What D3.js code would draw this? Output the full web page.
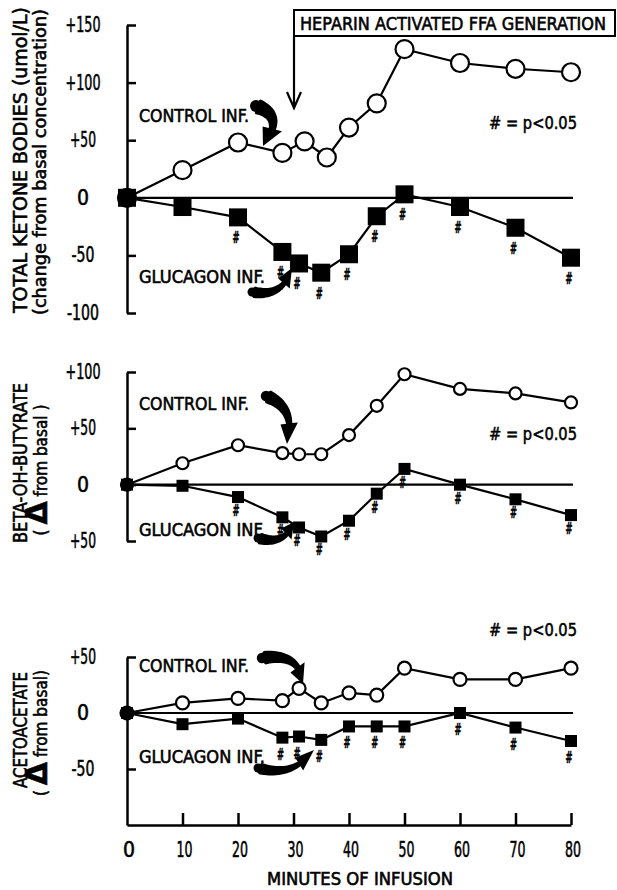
<!DOCTYPE html>
<html>
<head>
<meta charset="utf-8">
<script src="https://cdn.jsdelivr.net/npm/d3@7"></script>
<style>
  body { margin: 0; background: #fff; }
  svg { display: block; }
  text { stroke: #000; stroke-width: 0.55px; }
</style>
</head>
<body>
<div id="chart"></div>
<script>
// Data
var minutes = [0, 10, 20, 28, 31, 35, 40, 45, 50, 60, 70, 80];
var ketoneControlMinutes = [0, 10, 20, 28, 32, 36, 40, 45, 50, 60, 70, 80];
var ketoneControl = [0, 24, 48, 39, 49, 35, 61, 82, 129, 117, 112, 109];
var ketoneGlucagon = [0, -8, -17, -47, -57, -65, -49, -16, 3, -8, -26, -52];
var ketoneSig = [20, 28, 31, 35, 40, 45, 50, 60, 70, 80];
var bohbControl = [0, 19, 35, 28, 27, 27, 44, 70, 98, 85, 81, 73];
var bohbGlucagon = [0, -1, -11, -29, -38, -46, -32, -8, 14, 0, -13, -27];
var bohbSig = [20, 28, 31, 35, 40, 45, 50, 60, 70, 80];
var acacControl = [0, 9, 13, 11, 22, 9, 18, 16, 40, 30, 30, 40];
var acacGlucagon = [0, -10, -5, -22, -21, -24, -12, -12, -12, 0, -13, -25];
var acacSig = [28, 31, 35, 40, 45, 50, 60, 70, 80];

var xTicks = [0, 10, 20, 30, 40, 50, 60, 70, 80];
var ketoneTicks = [150, 100, 50, 0, -50, -100];
var ketoneTickLabels = ["+150", "+100", "+50", "0", "-50", "-100"];
var bohbTicks = [100, 50, 0, -50];
var bohbTickLabels = ["+100", "+50", "0", "+50"];
var acacTicks = [50, 0, -50];
var acacTickLabels = ["+50", "0", "-50"];

var FONT = "'Liberation Sans Narrow','DejaVu Sans Condensed','Arial Narrow',sans-serif";

var width = 617, height = 890;

var svg = d3.select("#chart")
    .append("svg")
    .attr("width", width)
    .attr("height", height)
    .style("font-family", FONT);

var x = d3.scaleLinear().domain([0, 80]).range([127, 571]);

// rough printed width of a numeric label
function labelWidth(s) {
    var w = 0;
    for (var i = 0; i < s.length; i++) w += s[i] === "+" ? 8 : (s[i] === "-" ? 5 : 9);
    return w;
}

var panels = [
    { y: d3.scaleLinear().domain([-100, 150]).range([313, 25]),
      ctrlX: ketoneControlMinutes, ctrl: ketoneControl, gluc: ketoneGlucagon, sig: ketoneSig,
      ticks: ketoneTicks, labels: ketoneTickLabels, r: 9, sq: 18, sigDy: 26,
      ctrlLabelY: 122, glucLabelY: 283, pLabelY: 129 },
    { y: d3.scaleLinear().domain([-50, 100]).range([541, 372]),
      ctrlX: minutes, ctrl: bohbControl, gluc: bohbGlucagon, sig: bohbSig,
      ticks: bohbTicks, labels: bohbTickLabels, r: 6, sq: 12, sigDy: 19,
      ctrlLabelY: 410, glucLabelY: 536, pLabelY: 440 },
    { y: d3.scaleLinear().domain([-100, 50]).range([825, 657]),
      ctrlX: minutes, ctrl: acacControl, gluc: acacGlucagon, sig: acacSig,
      ticks: acacTicks, labels: acacTickLabels, r: 6.5, sq: 12, sigDy: 22,
      ctrlLabelY: 672, glucLabelY: 763, pLabelY: 636 }
];

// curved, fat annotation arrow (hand drawn look)
function fatArrow(p0, c, p1, w) {
    function q(t) {
        return [(1 - t) * (1 - t) * p0[0] + 2 * (1 - t) * t * c[0] + t * t * p1[0],
                (1 - t) * (1 - t) * p0[1] + 2 * (1 - t) * t * c[1] + t * t * p1[1]];
    }
    function dq(t) {
        var dx = 2 * (1 - t) * (c[0] - p0[0]) + 2 * t * (p1[0] - c[0]);
        var dy = 2 * (1 - t) * (c[1] - p0[1]) + 2 * t * (p1[1] - c[1]);
        var l = Math.sqrt(dx * dx + dy * dy);
        return [dx / l, dy / l];
    }
    var tb = 0.68, n = 20, left = [], right = [];
    for (var i = 0; i <= n; i++) {
        var t = tb * i / n, P = q(t), D = dq(t);
        var h = w * (1 - 0.55 * t / tb) * (i === 0 ? 0.6 : 1);
        left.push([P[0] - D[1] * h, P[1] + D[0] * h]);
        right.push([P[0] + D[1] * h, P[1] - D[0] * h]);
    }
    var B = q(tb), D = dq(tb), hw = w * 1.25;
    var pts = left.concat([[B[0] - D[1] * hw, B[1] + D[0] * hw], p1, [B[0] + D[1] * hw, B[1] - D[0] * hw]])
        .concat(right.reverse());
    svg.append("path")
        .attr("d", "M" + pts.map(function (p) { return p[0].toFixed(1) + "," + p[1].toFixed(1); }).join("L") + "Z")
        .attr("fill", "#000");
    svg.append("circle").attr("cx", p0[0]).attr("cy", p0[1]).attr("r", w * 0.75).attr("fill", "#000");
}

var line = d3.line();

panels.forEach(function (p) {
    var g = svg.append("g");

    // vertical axis with right-pointing ticks
    var yAxis = d3.axisRight(p.y).tickValues(p.ticks).tickSize(9).tickSizeOuter(0).tickFormat("");
    var ay = g.append("g").attr("transform", "translate(" + x(0) + ",0)").call(yAxis);
    ay.selectAll("path, line").attr("stroke", "#000").attr("stroke-width", 2.5);

    // tick labels on the left
    g.selectAll(".ylab")
        .data(p.ticks)
        .enter().append("text")
        .attr("x", 83)
        .attr("y", function (d) { return p.y(d) + 7; })
        .attr("text-anchor", "middle")
        .attr("font-size", 21)
        .each(function (d, i) {
            var s = p.labels[i];
            d3.select(this).text(s);
            if (s.length > 1) d3.select(this).attr("textLength", labelWidth(s)).attr("lengthAdjust", "spacingAndGlyphs");
        });

    // zero line
    g.append("line")
        .attr("x1", x(0)).attr("x2", x(80) + 2)
        .attr("y1", p.y(0)).attr("y2", p.y(0))
        .attr("stroke", "#000").attr("stroke-width", 2.2);

    var ctrlPts = p.ctrl.map(function (v, i) { return [x(p.ctrlX[i]), p.y(v)]; });
    var glucPts = p.gluc.map(function (v, i) { return [x(minutes[i]), p.y(v)]; });

    g.append("path").attr("d", line(glucPts)).attr("fill", "none")
        .attr("stroke", "#000").attr("stroke-width", 2.2);
    g.append("path").attr("d", line(ctrlPts)).attr("fill", "none")
        .attr("stroke", "#000").attr("stroke-width", 2.2);

    // glucagon squares
    g.selectAll(".sq")
        .data(glucPts)
        .enter().append("rect")
        .attr("x", function (d) { return d[0] - p.sq / 2; })
        .attr("y", function (d) { return d[1] - p.sq / 2; })
        .attr("width", p.sq).attr("height", p.sq)
        .attr("fill", "#000");

    // control circles
    g.selectAll(".dot")
        .data(ctrlPts)
        .enter().append("circle")
        .attr("cx", function (d) { return d[0]; })
        .attr("cy", function (d) { return d[1]; })
        .attr("r", p.r)
        .attr("fill", function (d, i) { return i === 0 ? "none" : "#fff"; })
        .attr("stroke", "#000").attr("stroke-width", 2.2);

    // significance marks
    g.selectAll(".sig")
        .data(p.sig)
        .enter().append("text")
        .attr("x", function (m) { return x(m) - 2; })
        .attr("y", function (m) { return p.y(p.gluc[minutes.indexOf(m)]) + p.sigDy; })
        .attr("text-anchor", "middle")
        .attr("font-size", 16)
        .attr("font-weight", "bold")
        .attr("textLength", 7).attr("lengthAdjust", "spacingAndGlyphs")
        .text("#");

    g.append("text").attr("x", 139).attr("y", p.ctrlLabelY)
        .attr("font-size", 18).attr("textLength", 110).attr("lengthAdjust", "spacingAndGlyphs")
        .text("CONTROL INF.");
    g.append("text").attr("x", 139).attr("y", p.glucLabelY)
        .attr("font-size", 17).attr("textLength", 126).attr("lengthAdjust", "spacingAndGlyphs")
        .text("GLUCAGON INF.");
    g.append("text").attr("x", 489).attr("y", p.pLabelY)
        .attr("font-size", 18).attr("textLength", 88).attr("lengthAdjust", "spacingAndGlyphs")
        .text("# = p<0.05");
});

// x axis at the bottom of the last panel
var xAxis = d3.axisTop(x).tickValues(xTicks.slice(1)).tickSize(12).tickSizeOuter(0).tickFormat("");
var ax = svg.append("g").attr("transform", "translate(0,825)").call(xAxis);
ax.selectAll("path, line").attr("stroke", "#000").attr("stroke-width", 2.5);

svg.selectAll(".xlab")
    .data(xTicks)
    .enter().append("text")
    .attr("x", function (d) { return x(d) + 2; })
    .attr("y", 857)
    .attr("text-anchor", "middle")
    .attr("font-size", 21)
    .each(function (d) {
        var s = String(d);
        d3.select(this).text(s);
        if (s.length > 1) d3.select(this).attr("textLength", 16).attr("lengthAdjust", "spacingAndGlyphs");
    });

svg.append("text")
    .attr("x", 360).attr("y", 885)
    .attr("text-anchor", "middle")
    .attr("font-size", 17)
    .attr("textLength", 186).attr("lengthAdjust", "spacingAndGlyphs")
    .text("MINUTES OF INFUSION");

// heparin annotation
svg.append("rect")
    .attr("x", 294).attr("y", 10).attr("width", 321).attr("height", 26)
    .attr("fill", "#fff").attr("stroke", "#000").attr("stroke-width", 2);
svg.append("text")
    .attr("x", 300).attr("y", 30)
    .attr("font-size", 18)
    .attr("textLength", 306).attr("lengthAdjust", "spacingAndGlyphs")
    .text("HEPARIN ACTIVATED FFA GENERATION");
svg.append("path")
    .attr("d", "M294,36V108M287,92L294,108L301,92")
    .attr("fill", "none").attr("stroke", "#000").attr("stroke-width", 2.2);

// curved arrows pointing at the curves
fatArrow([256, 106], [286, 116], [263, 146], 8);
fatArrow([252, 292], [283, 298], [292, 268], 6);
fatArrow([266, 396], [297, 408], [287, 444], 7);
fatArrow([258, 538], [285, 546], [294, 522], 6);
fatArrow([262, 658], [300, 652], [303, 684], 7);
fatArrow([258, 768], [293, 778], [314, 750], 6);

// y axis titles
function rotText(cx, cy, size, len, str) {
    var t = svg.append("text")
        .attr("transform", "translate(" + cx + "," + cy + ") rotate(-90)")
        .attr("text-anchor", "middle")
        .attr("font-size", size)
        .text(str);
    if (len) t.attr("textLength", len).attr("lengthAdjust", "spacingAndGlyphs");
    return t;
}
rotText(27, 160, 19, 306, "TOTAL KETONE BODIES (umol/L)");
rotText(46, 162, 17, 306, "(change from basal concentration)");

rotText(27, 463, 19, 160, "BETA-OH-BUTYRATE");
var b2 = rotText(47, 470, 17, null, "");
b2.append("tspan").text("( ");
b2.append("tspan").attr("font-size", 30).attr("font-weight", "bold").attr("font-family", "'DejaVu Sans',sans-serif").text("\u0394");
b2.append("tspan").text(" from basal )");

rotText(27, 730, 19, 116, "ACETOACETATE");
var a2 = rotText(47, 733, 17, null, "");
a2.append("tspan").text("( ");
a2.append("tspan").attr("font-size", 30).attr("font-weight", "bold").attr("font-family", "'DejaVu Sans',sans-serif").text("\u0394");
a2.append("tspan").text(" from basal)");
</script>
</body>
</html>
